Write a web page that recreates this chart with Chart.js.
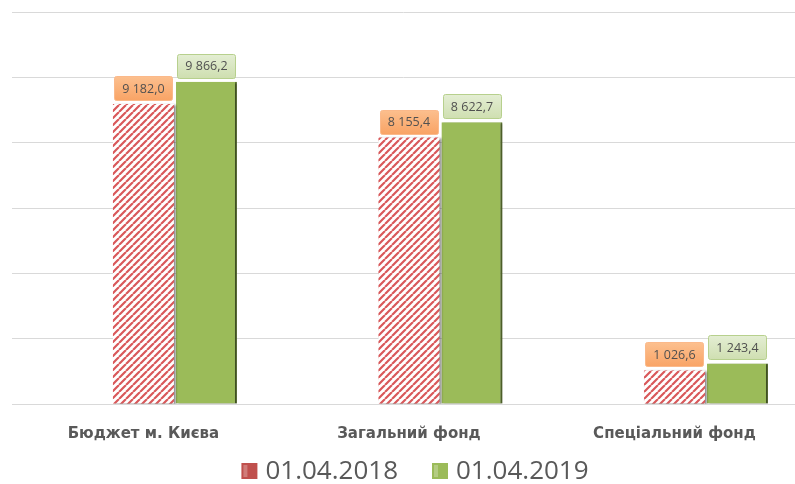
<!DOCTYPE html>
<html>
<head>
<meta charset="utf-8">
<script src="https://cdn.jsdelivr.net/npm/chart.js@4.4.1/dist/chart.umd.min.js"></script>
<style>
  html, body { margin: 0; padding: 0; background: #ffffff; overflow: hidden; }
  #wrap { position: relative; width: 795px; height: 484px; }
</style>
</head>
<body>
<div id="wrap"><canvas id="c" width="795" height="484"></canvas></div>
<script>
// ---- data ----
const categories = ['Бюджет м. Києва', 'Загальний фонд', 'Спеціальний фонд'];
const seriesNames = ['01.04.2018', '01.04.2019'];
const values2018 = [9182.0, 8155.4, 1026.6];
const values2019 = [9866.2, 8622.7, 1243.4];
const yTicks = [0, 2000, 4000, 6000, 8000, 10000, 12000];

function fmt(v) {
  const parts = v.toFixed(1).split('.');
  parts[0] = parts[0].replace(/\B(?=(\d{3})+(?!\d))/g, ' ');
  return parts[0] + ',' + parts[1];
}

function hatch() {
  const s = 7;
  const c = document.createElement('canvas');
  c.width = s; c.height = s;
  const g = c.getContext('2d');
  g.fillStyle = '#ffffff';
  g.fillRect(0, 0, s, s);
  g.strokeStyle = '#d9585a';
  g.lineWidth = 2.2;
  g.beginPath();
  for (let k = -1; k <= 1; k++) {
    g.moveTo(k * s, s);
    g.lineTo(k * s + s, 0);
  }
  g.stroke();
  return g.createPattern(c, 'repeat');
}

const ctx = document.getElementById('c').getContext('2d');

const shadowPlugin = {
  id: 'shadow',
  beforeDatasetDraw(chart) {
    const c = chart.ctx;
    c.save();
    c.shadowColor = 'rgba(0,0,0,0.45)';
    c.shadowBlur = 2;
    c.shadowOffsetX = 2;
    c.shadowOffsetY = 1;
  },
  afterDatasetDraw(chart) {
    chart.ctx.restore();
  }
};

const labelPlugin = {
  id: 'boxLabels',
  afterDatasetsDraw(chart) {
    const c = chart.ctx;
    chart.data.datasets.forEach((ds, di) => {
      if (!ds.labelFillTop) return;
      const meta = chart.getDatasetMeta(di);
      meta.data.forEach((bar, i) => {
        const txt = fmt(ds.data[i].y);
        c.save();
        c.font = '12.5px "Open Sans", sans-serif';
        const tw = c.measureText(txt).width;
        const w = tw + 16, h = 24;
        const x = bar.x - w / 2;
        const y = bar.y - 4 - h;
        const grd = c.createLinearGradient(0, y, 0, y + h);
        grd.addColorStop(0, ds.labelFillTop);
        grd.addColorStop(1, ds.labelFillBottom);
        c.fillStyle = grd;
        c.strokeStyle = ds.labelBorder;
        c.lineWidth = 1;
        c.beginPath();
        c.roundRect(Math.round(x) + 0.5, Math.round(y) + 0.5, Math.round(w), h, 2);
        c.fill();
        c.stroke();
        c.fillStyle = '#505050';
        c.textAlign = 'center';
        c.textBaseline = 'middle';
        c.fillText(txt, bar.x, y + h / 2 + 1);
        c.restore();
      });
    });
  }
};

const legendColors = ['#c0504d', '#9bbb59'];

// legend drawn below the axis labels (series names + colour squares)
const legendPlugin = {
  id: 'bottomLegend',
  afterDraw(chart) {
    const c = chart.ctx;
    const box = 16, gap = 8, itemGap = 34;
    c.save();
    c.font = '26px "Open Sans", sans-serif';
    const widths = seriesNames.map(n => c.measureText(n).width);
    const total = widths.reduce((a, w) => a + box + gap + w, 0) + itemGap * (seriesNames.length - 1);
    let x = 415 - total / 2;
    const cy = 471;
    seriesNames.forEach((n, i) => {
      c.fillStyle = legendColors[i];
      c.fillRect(x, cy - box / 2, box, box);
      c.fillStyle = 'rgba(255,255,255,0.25)';
      c.fillRect(x + 2, cy - box / 2 + 2, 4, box - 4);
      x += box + gap;
      c.fillStyle = '#595959';
      c.textAlign = 'left';
      c.textBaseline = 'middle';
      c.fillText(n, x, cy + 1);
      x += widths[i] + itemGap;
    });
    c.restore();
  }
};

new Chart(ctx, {
  type: 'bar',
  data: {
    datasets: [
      {
        // empty leading slot, as in the source chart's bar layout
        label: '',
        data: categories.map((_, i) => ({ x: i, y: null })),
        backgroundColor: 'rgba(0,0,0,0)'
      },
      {
        label: seriesNames[0],
        data: values2018.map((v, i) => ({ x: i, y: v })),
        backgroundColor: hatch(),
        borderWidth: 0,
        labelFillTop: '#fcc08f',
        labelFillBottom: '#f9a466',
        labelBorder: '#fbb98a'
      },
      {
        label: seriesNames[1],
        data: values2019.map((v, i) => ({ x: i, y: v })),
        backgroundColor: '#9bbb59',
        borderColor: '#6f8a3c',
        borderWidth: { right: 2, bottom: 0, top: 0, left: 0 },
        labelFillTop: '#e4eed4',
        labelFillBottom: '#cfdfb1',
        labelBorder: '#b7d08d'
      }
    ]
  },
  options: {
    responsive: false,
    animation: false,
    categoryPercentage: 0.712,
    barPercentage: 0.968,
    layout: { padding: { left: 12, right: 0, top: 12, bottom: 27 } },
    scales: {
      x: {
        type: 'linear',
        offset: false,
        min: -0.495,
        max: 2.454,
        grid: { display: false },
        border: { display: false },
        afterBuildTicks(scale) {
          scale.ticks = categories.map((_, i) => ({ value: i }));
        },
        ticks: {
          autoSkip: false,
          maxRotation: 0,
          padding: 13.5,
          color: '#595959',
          font: { family: '"DejaVu Sans", sans-serif', size: 15, weight: 'bold' },
          callback: (v) => categories[v] ?? ''
        }
      },
      y: {
        min: 0,
        max: 12000,
        afterBuildTicks(scale) {
          scale.ticks = yTicks.map(v => ({ value: v }));
        },
        ticks: { display: false },
        border: { display: false },
        grid: { color: '#d9d9d9', lineWidth: 1, drawTicks: false }
      }
    },
    plugins: {
      legend: { display: false },
      tooltip: { enabled: false }
    }
  },
  plugins: [shadowPlugin, labelPlugin, legendPlugin]
});
</script>
</body>
</html>
